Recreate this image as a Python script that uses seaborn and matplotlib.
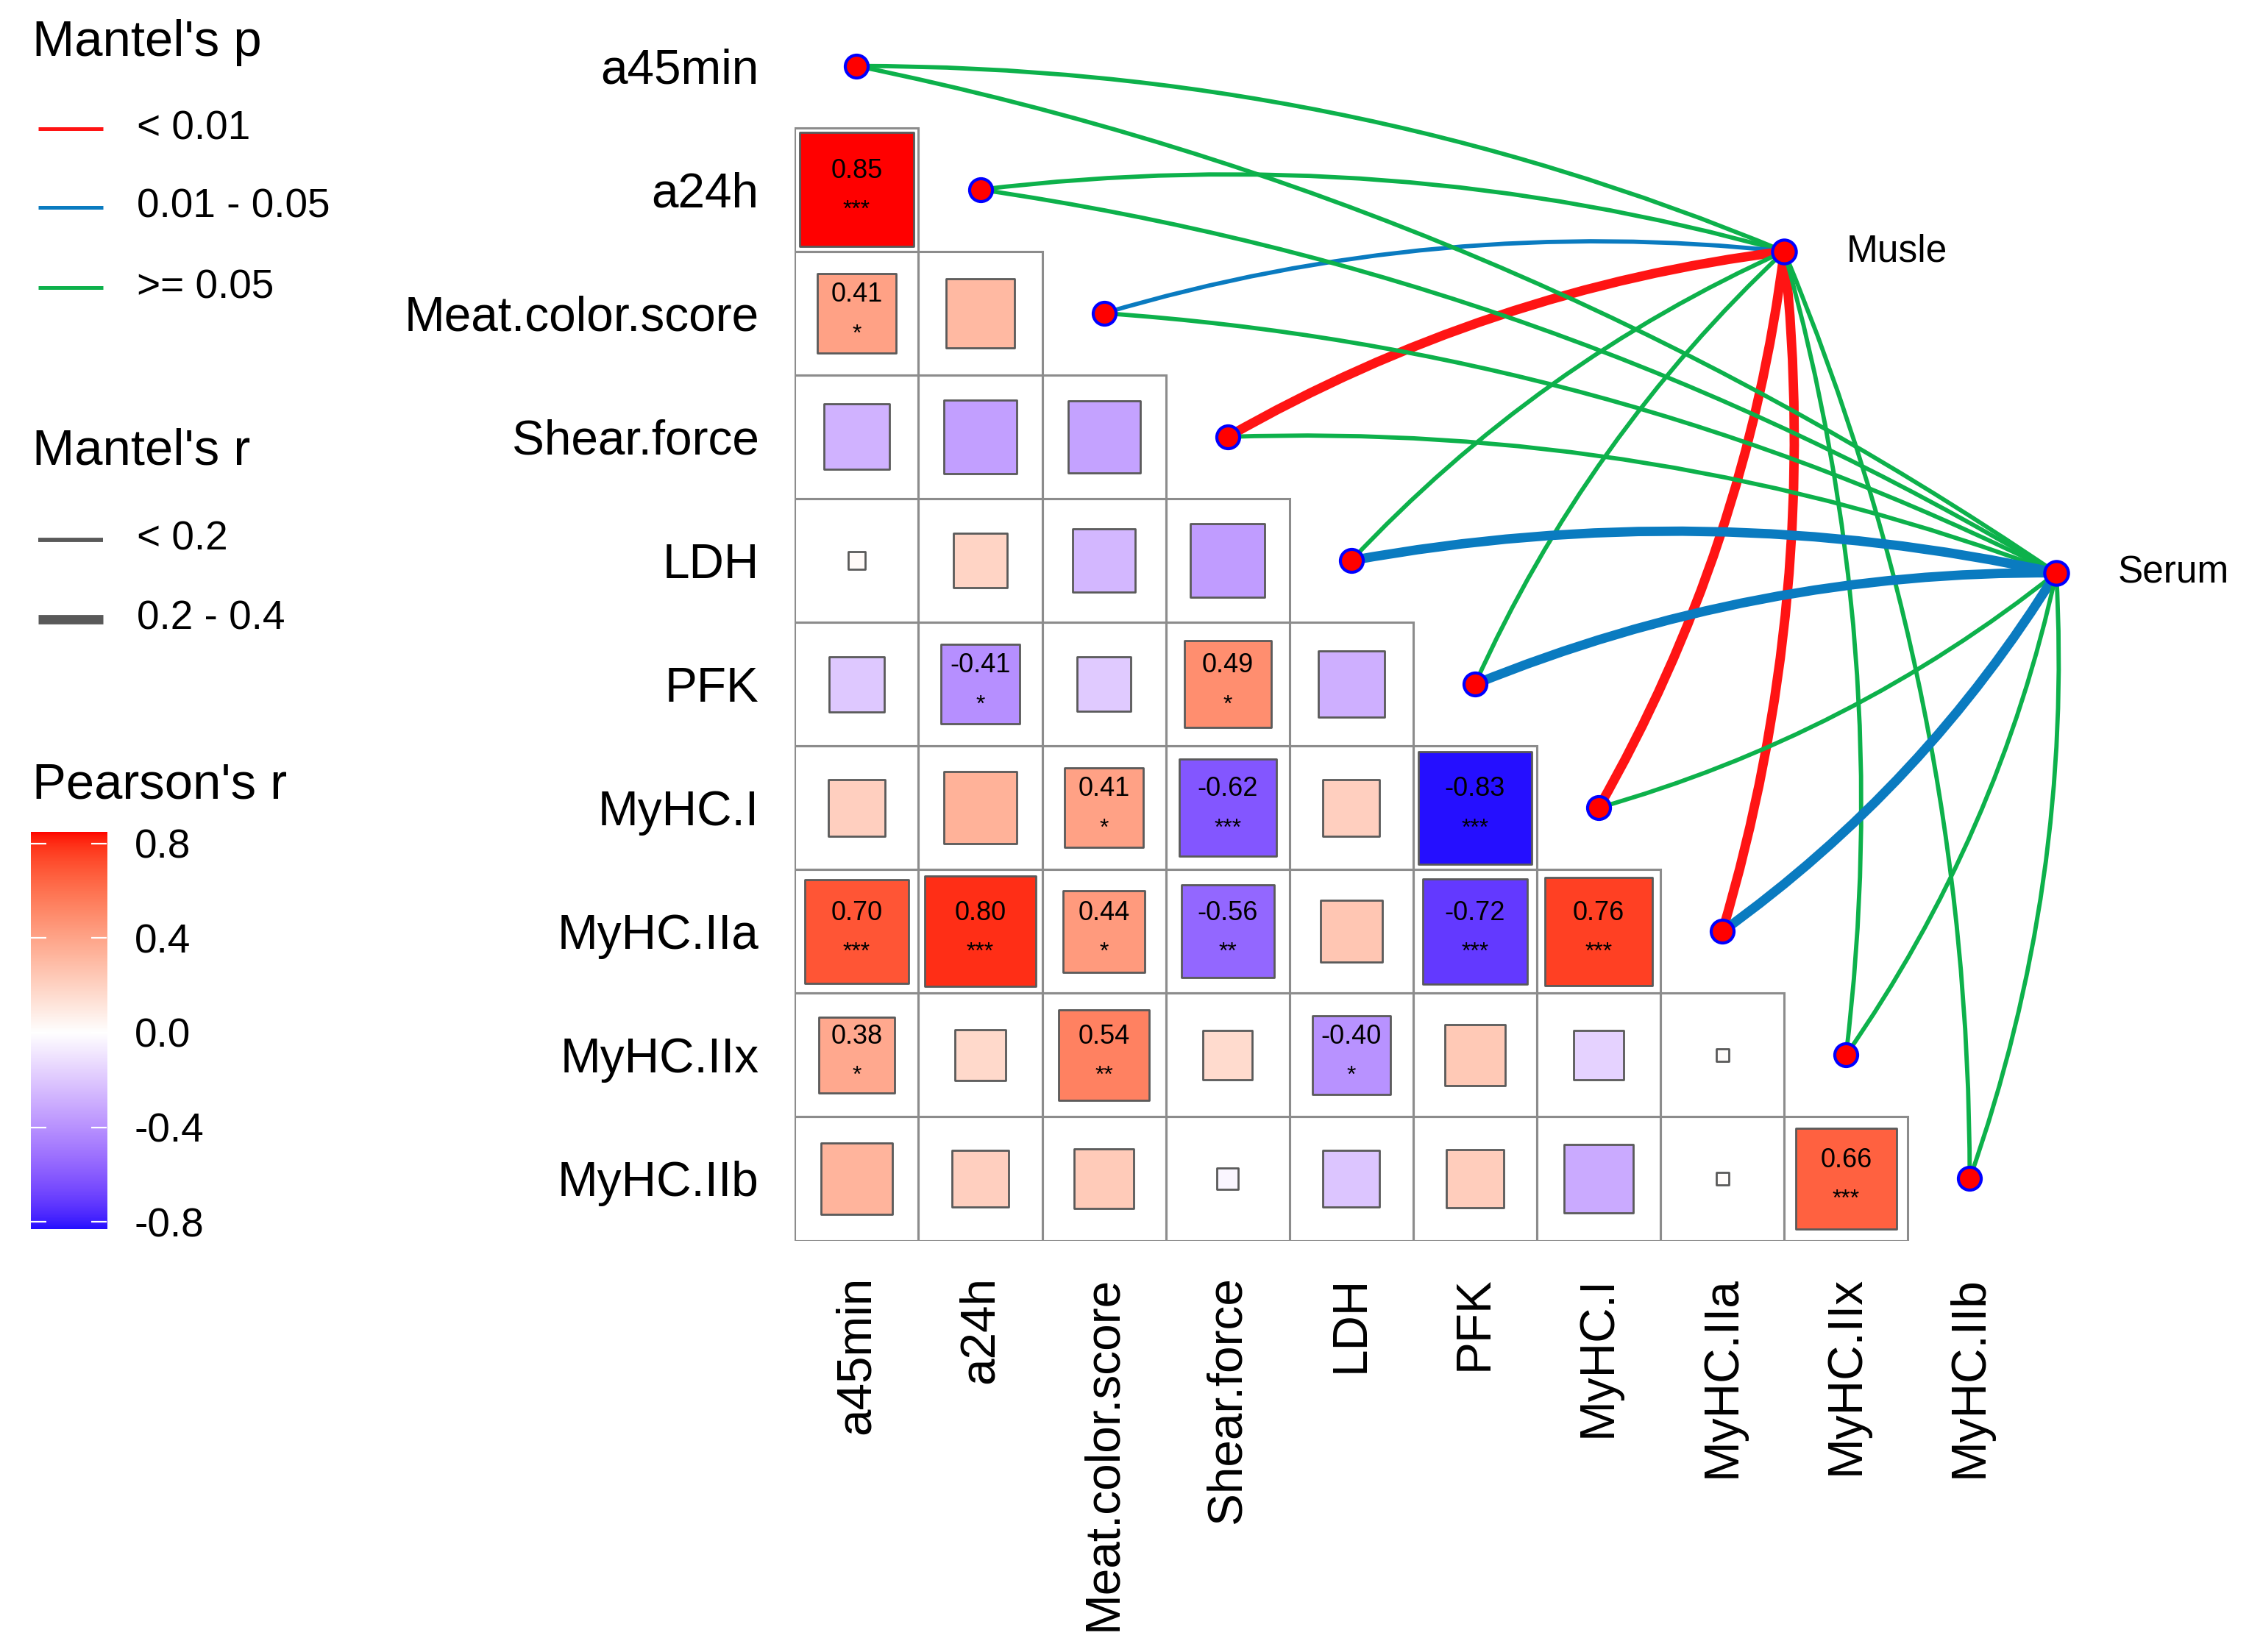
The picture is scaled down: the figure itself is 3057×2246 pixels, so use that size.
import numpy as np
import pandas as pd
import matplotlib
matplotlib.use("Agg")
import matplotlib.pyplot as plt
import seaborn as sns
from matplotlib.colors import ListedColormap, Normalize
from matplotlib.patches import Rectangle, FancyArrowPatch

variables = ["a45min", "a24h", "Meat.color.score", "Shear.force", "LDH", "PFK",
             "MyHC.I", "MyHC.IIa", "MyHC.IIx", "MyHC.IIb"]

# lower triangle of Pearson's r: row i holds columns 0..i-1
pearson_r = [
    [],
    [0.85],
    [0.41, 0.31],
    [-0.28, -0.35, -0.34],
    [0.02, 0.19, -0.26, -0.36],
    [-0.20, -0.41, -0.19, 0.49, -0.29],
    [0.21, 0.34, 0.41, -0.62, 0.21, -0.83],
    [0.70, 0.80, 0.44, -0.56, 0.25, -0.72, 0.76],
    [0.38, 0.17, 0.54, 0.16, -0.40, 0.24, -0.16, 0.01],
    [0.33, 0.21, 0.23, -0.03, -0.21, 0.22, -0.31, 0.01, 0.66],
]
pearson_sig = [
    [],
    ["***"],
    ["*", ""],
    ["", "", ""],
    ["", "", "", ""],
    ["", "*", "", "*", ""],
    ["", "", "*", "***", "", "***"],
    ["***", "***", "*", "**", "", "***", "***"],
    ["*", "", "**", "", "*", "", "", ""],
    ["", "", "", "", "", "", "", "", "***"],
]

env_names = ["Musle", "Serum"]
musle_p = [">= 0.05", ">= 0.05", "0.01 - 0.05", "< 0.01", ">= 0.05", ">= 0.05",
           "< 0.01", "< 0.01", ">= 0.05", ">= 0.05"]
musle_r = ["< 0.2", "< 0.2", "< 0.2", "0.2 - 0.4", "< 0.2", "< 0.2",
           "0.2 - 0.4", "0.2 - 0.4", "< 0.2", "< 0.2"]
serum_p = [">= 0.05", ">= 0.05", ">= 0.05", ">= 0.05", "0.01 - 0.05", "0.01 - 0.05",
           ">= 0.05", "0.01 - 0.05", ">= 0.05", ">= 0.05"]
serum_r = ["< 0.2", "< 0.2", "< 0.2", "< 0.2", "0.2 - 0.4", "0.2 - 0.4",
           "< 0.2", "0.2 - 0.4", "< 0.2", "< 0.2"]

p_levels = ["< 0.01", "0.01 - 0.05", ">= 0.05"]
r_levels = ["< 0.2", "0.2 - 0.4"]
p_colors = {"< 0.01": "#FF1414", "0.01 - 0.05": "#0A7BC0", ">= 0.05": "#0DB14B"}
r_widths = {"< 0.2": 2.1, "0.2 - 0.4": 4.6}


# ggplot-like gradient2 (blue - white - red) interpolated in CIELAB
M = np.array([[0.4124564, 0.3575761, 0.1804375],
              [0.2126729, 0.7151522, 0.0721750],
              [0.0193339, 0.1191920, 0.9503041]])
WHITE = np.array([0.95047, 1.0, 1.08883])


def to_lab(rgb):
    rgb = np.asarray(rgb, float)
    lin = np.where(rgb <= 0.04045, rgb / 12.92, ((rgb + 0.055) / 1.055) ** 2.4)
    xyz = lin @ M.T / WHITE
    d = 6 / 29
    f = np.where(xyz > d ** 3, np.cbrt(xyz), xyz / (3 * d * d) + 4 / 29)
    return np.stack([116 * f[..., 1] - 16, 500 * (f[..., 0] - f[..., 1]),
                     200 * (f[..., 1] - f[..., 2])], -1)


def to_rgb(lab):
    fy = (lab[..., 0] + 16) / 116
    f = np.stack([fy + lab[..., 1] / 500, fy, fy - lab[..., 2] / 200], -1)
    d = 6 / 29
    xyz = np.where(f > d, f ** 3, 3 * d * d * (f - 4 / 29)) * WHITE
    lin = np.clip(xyz @ np.linalg.inv(M).T, 0, 1)
    rgb = np.where(lin <= 0.0031308, 12.92 * lin, 1.055 * lin ** (1 / 2.4) - 0.055)
    return np.clip(rgb, 0, 1)


anchors = to_lab([[0, 0, 1], [1, 1, 1], [1, 0, 0]])
t = np.linspace(0, 1, 512)
lab = np.empty((len(t), 3))
for k in range(3):
    lab[:, k] = np.interp(t, [0, 0.5, 1], anchors[:, k])
cmap = ListedColormap(to_rgb(lab))

all_r = np.concatenate([np.array(v) for v in pearson_r if v])
rmax = np.abs(all_r).max()
norm = Normalize(-rmax, rmax)

sns.set_theme(style="white")
plt.rcParams["font.family"] = ["Liberation Sans", "DejaVu Sans"]
plt.rcParams["text.color"] = "black"

W, H, DPI = 3057, 2246, 200
fig = plt.figure(figsize=(W / DPI, H / DPI), dpi=DPI)

# legends drawn in figure pixel space
lax = fig.add_axes([0, 0, 1, 1])
lax.set_xlim(0, W)
lax.set_ylim(H, 0)
lax.axis("off")

ax = fig.add_axes([0.3534, 0.2491, 0.6434, 0.7484])
ax.patch.set_alpha(0)
XMAX = 11.2
cell_pt = 0.6434 * W / (XMAX + 0.5) * 72 / DPI

rows = []
for i, (vals, sigs) in enumerate(zip(pearson_r, pearson_sig)):
    for j, (r, s) in enumerate(zip(vals, sigs)):
        rows.append(dict(row=i, col=j, r=r, absr=abs(r), sig=s))
cells = pd.DataFrame(rows)

for _, c in cells.iterrows():
    ax.add_patch(Rectangle((c.col - 0.5, c.row - 0.5), 1, 1, fill=False,
                           edgecolor="#8c8c8c", linewidth=1.1, zorder=1))

sns.scatterplot(data=cells, x="col", y="row", hue="r", palette=cmap, hue_norm=norm,
                size="absr", sizes=(0, cell_pt ** 2), size_norm=(0, 1), marker="s",
                edgecolor="#5a5a5a", linewidth=1.0, legend=False, ax=ax, zorder=2)

for _, c in cells[cells.sig != ""].iterrows():
    ax.text(c.col, c.row - 0.15, f"{c.r:.2f}", ha="center", va="center",
            fontsize=13, color="black", zorder=3)
    ax.text(c.col, c.row + 0.17, c.sig, ha="center", va="center",
            fontsize=11.5, color="black", zorder=3)

# Mantel links
env_xy = [(7.5, 1.5), (9.7, 4.1)]
links = [(musle_p, musle_r), (serum_p, serum_r)]
for (ex, ey), (pc, rc) in zip(env_xy, links):
    for i in range(len(variables)):
        rad = -0.1 if i < 6 else 0.1
        ax.add_patch(FancyArrowPatch((i, i), (ex, ey), arrowstyle="-",
                                     connectionstyle=f"arc3,rad={rad}",
                                     color=p_colors[pc[i]], linewidth=r_widths[rc[i]],
                                     shrinkA=0, shrinkB=0, zorder=4, clip_on=False))

idx = np.arange(len(variables))
sns.scatterplot(x=idx, y=idx, color="#FF0000", edgecolor="#0000FF", s=125,
                linewidth=1.5, legend=False, ax=ax, zorder=6, clip_on=False)
sns.scatterplot(x=[p[0] for p in env_xy], y=[p[1] for p in env_xy], color="#FF0000",
                edgecolor="#0000FF", s=135, linewidth=1.5, legend=False, ax=ax,
                zorder=6, clip_on=False)
for (ex, ey), name in zip(env_xy, env_names):
    ax.text(ex + 0.5, ey, name, ha="left", va="center", fontsize=18.5, color="black")

ax.set_xlim(-0.5, XMAX)
ax.set_ylim(9.5, -0.5)
ax.set_xticks(idx)
ax.set_xticklabels(variables, rotation=90)
ax.set_yticks(idx)
ax.set_yticklabels(variables)
ax.tick_params(length=0, pad=17.5, labelsize=23.7, colors="black")
ax.set_xlabel("")
ax.set_ylabel("")
for s in ax.spines.values():
    s.set_visible(False)

# Mantel's p legend
lax.text(44, 58, "Mantel's p", fontsize=24.8, ha="left", va="center")
for y, lev in zip([175, 282, 391], p_levels):
    lax.plot([52, 140], [y, y], color=p_colors[lev], linewidth=1.8,
             solid_capstyle="butt")
    lax.text(186, y, lev, fontsize=19.8, ha="left", va="center")

# Mantel's r legend
lax.text(44, 614, "Mantel's r", fontsize=24.8, ha="left", va="center")
for y, lev in zip([734, 842], r_levels):
    lax.plot([52, 140], [y, y], color="#595959", linewidth=r_widths[lev],
             solid_capstyle="butt")
    lax.text(186, y, lev, fontsize=19.8, ha="left", va="center")

# Pearson's r colour bar
lax.text(44, 1067, "Pearson's r", fontsize=24.8, ha="left", va="center")
cax = fig.add_axes([0.01374, 0.2561, 0.0337, 0.2405])
vmin, vmax = all_r.min(), all_r.max()
grad = np.linspace(vmin, vmax, 400)[:, None]
cax.imshow(grad, extent=(0, 1, vmin, vmax), origin="lower", aspect="auto",
           cmap=cmap, norm=norm)
cax.set_xlim(0, 1)
cax.set_ylim(vmin, vmax)
cax.set_xticks([])
cax.set_yticks([-0.8, -0.4, 0.0, 0.4, 0.8])
cax.set_yticklabels(["-0.8", "-0.4", "0.0", "0.4", "0.8"])
cax.tick_params(axis="y", direction="in", length=7.4, width=0.8, color="white",
                left=True, right=True, labelleft=False, labelright=True,
                pad=13.5, labelsize=19.8, labelcolor="black")
for s in cax.spines.values():
    s.set_visible(False)

fig.savefig("out.png", dpi=DPI, facecolor="white")
